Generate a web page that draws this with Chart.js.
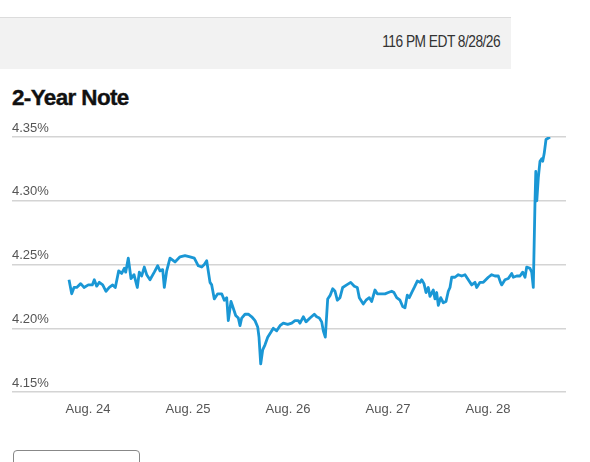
<!DOCTYPE html>
<html>
<head>
<meta charset="utf-8">
<script src="https://cdn.jsdelivr.net/npm/chart.js@4.4.1/dist/chart.umd.min.js"></script>
<style>
  html, body { margin: 0; padding: 0; background: #fff; }
  body { width: 590px; height: 462px; position: relative; overflow: hidden;
         font-family: 'Liberation Sans', Arial, sans-serif; }
  .stamp { position: absolute; left: 0; top: 17px; width: 511px; height: 52px;
           background: #f2f2f2; border-top: 1px solid #dcdcdc; box-sizing: border-box; }
  .stamp span { position: absolute; right: 11px; top: 15px; font-size: 16px; color: #333;
                letter-spacing: -0.6px; transform: scaleX(0.86); transform-origin: right center; }
  h1 { position: absolute; left: 12px; top: 85px; margin: 0; font-size: 22px; font-weight: bold;
       color: #111; letter-spacing: -0.6px; transform: scaleX(1.02); transform-origin: left center;
       -webkit-text-stroke: 0.4px #111; }
  .wrap { position: absolute; left: 0; top: 110px; width: 590px; height: 320px; }
  .btn { position: absolute; left: 13px; top: 450px; width: 127px; height: 30px;
         border: 1px solid #888; border-radius: 4px; box-sizing: border-box; }
</style>
</head>
<body>
<div class="stamp"><span>116 PM EDT 8/28/26</span></div>
<h1>2-Year Note</h1>
<div class="wrap"><canvas id="noteChart"></canvas></div>
<div class="btn"></div>
<script>
// tiempo en días (24 = Aug. 24) y rendimiento en %
const dias = [
  23.81, 23.837, 23.86, 23.887, 23.927, 23.96, 24.003, 24.043, 24.063, 24.087,
  24.113, 24.147, 24.18, 24.213, 24.247, 24.273, 24.307, 24.337, 24.363, 24.377,
  24.403, 24.43, 24.46, 24.493, 24.513, 24.537, 24.563, 24.587, 24.62, 24.663,
  24.697, 24.72, 24.747, 24.763, 24.787, 24.82, 24.87, 24.92, 24.97, 25.02,
  25.063, 25.103, 25.137, 25.163, 25.187, 25.22, 25.237, 25.263, 25.297, 25.337,
  25.363, 25.387, 25.403, 25.43, 25.443, 25.477, 25.503, 25.52, 25.537, 25.57,
  25.603, 25.637, 25.67, 25.697, 25.71, 25.727, 25.747, 25.77, 25.797, 25.83,
  25.853, 25.887, 25.92, 25.953, 25.997, 26.037, 26.07, 26.103, 26.12, 26.153,
  26.18, 26.22, 26.263, 26.287, 26.313, 26.337, 26.353, 26.373, 26.397, 26.423,
  26.447, 26.47, 26.493, 26.52, 26.547, 26.587, 26.627, 26.663, 26.693, 26.713,
  26.737, 26.753, 26.78, 26.813, 26.837, 26.87, 26.893, 26.927, 26.97, 27.003,
  27.037, 27.06, 27.087, 27.12, 27.147, 27.17, 27.193, 27.213, 27.237, 27.263,
  27.293, 27.32, 27.337, 27.36, 27.38, 27.403, 27.42, 27.453, 27.47, 27.487,
  27.503, 27.527, 27.553, 27.58, 27.603, 27.62, 27.637, 27.67, 27.703, 27.737,
  27.77, 27.803, 27.837, 27.87, 27.887, 27.92, 27.953, 28.003, 28.037, 28.07,
  28.103, 28.125, 28.137, 28.17, 28.203, 28.237, 28.253, 28.287, 28.32, 28.347,
  28.37, 28.387, 28.42, 28.437, 28.453, 28.47, 28.478, 28.488, 28.503, 28.52,
  28.537, 28.547, 28.562, 28.58, 28.6, 28.62
];
const rendimiento = [
  4.238, 4.227, 4.232, 4.232, 4.235, 4.232, 4.234, 4.234, 4.238, 4.233,
  4.236, 4.234, 4.229, 4.232, 4.234, 4.232, 4.245, 4.243, 4.247, 4.244,
  4.255, 4.239, 4.242, 4.232, 4.244, 4.241, 4.248, 4.242, 4.238, 4.244,
  4.249, 4.245, 4.246, 4.232, 4.245, 4.255, 4.252, 4.256, 4.257, 4.256,
  4.255, 4.249, 4.248, 4.250, 4.253, 4.236, 4.234, 4.223, 4.227, 4.227,
  4.222, 4.224, 4.206, 4.221, 4.218, 4.210, 4.208, 4.202, 4.208, 4.211,
  4.211, 4.209, 4.206, 4.201, 4.193, 4.172, 4.183, 4.187, 4.193, 4.197,
  4.200, 4.198, 4.202, 4.204, 4.203, 4.204, 4.206, 4.206, 4.204, 4.209,
  4.205, 4.208, 4.211, 4.209, 4.208, 4.205, 4.198, 4.193, 4.223, 4.226,
  4.231, 4.229, 4.222, 4.224, 4.232, 4.234, 4.236, 4.233, 4.232, 4.224,
  4.221, 4.219, 4.222, 4.224, 4.221, 4.230, 4.227, 4.227, 4.227, 4.228,
  4.229, 4.228, 4.224, 4.222, 4.217, 4.216, 4.226, 4.224, 4.228, 4.232,
  4.237, 4.236, 4.238, 4.235, 4.228, 4.232, 4.225, 4.230, 4.223, 4.228,
  4.218, 4.224, 4.220, 4.221, 4.229, 4.232, 4.240, 4.240, 4.242, 4.241,
  4.242, 4.238, 4.234, 4.236, 4.232, 4.236, 4.236, 4.240, 4.242, 4.241,
  4.241, 4.236, 4.234, 4.238, 4.239, 4.243, 4.240, 4.241, 4.241, 4.244,
  4.240, 4.248, 4.247, 4.244, 4.232, 4.299, 4.323, 4.300, 4.318, 4.331,
  4.333, 4.331, 4.337, 4.348, 4.349, 4.350
];
const xTicks  = [24, 25, 26, 27, 28];
const xLabels = ['Aug. 24', 'Aug. 25', 'Aug. 26', 'Aug. 27', 'Aug. 28'];
const yTicks  = [4.15, 4.20, 4.25, 4.30, 4.35];

const tickFont = { family: "'Liberation Sans', Arial, sans-serif", size: 13 };

const ctx = document.getElementById('noteChart').getContext('2d');
new Chart(ctx, {
  type: 'line',
  data: {
    datasets: [{
      data: dias.map((d, i) => ({ x: d, y: rendimiento[i] })),
      borderColor: '#1a97d5',
      borderWidth: 2.8,
      borderJoinStyle: 'round',
      pointRadius: 0,
      tension: 0,
      fill: false
    }]
  },
  options: {
    responsive: true,
    maintainAspectRatio: false,
    animation: false,
    layout: { padding: { left: 12, right: 24, top: 27, bottom: 0 } },
    plugins: { legend: { display: false }, tooltip: { enabled: false } },
    scales: {
      x: {
        type: 'linear',
        min: 23.24,
        max: 28.78,
        afterBuildTicks: s => { s.ticks = xTicks.map(v => ({ value: v })); },
        afterFit: s => { s.height = 38; },
        grid: { display: false, drawTicks: false },
        border: { display: false },
        ticks: {
          padding: 10,
          color: '#555',
          font: tickFont,
          maxRotation: 0,
          autoSkip: false,
          callback: v => xLabels[xTicks.indexOf(v)]
        }
      },
      y: {
        min: 4.15,
        max: 4.35,
        afterBuildTicks: s => { s.ticks = yTicks.map(v => ({ value: v })); },
        grid: { color: '#d4d4d4', lineWidth: 1.5, drawTicks: false },
        border: { display: false },
        ticks: {
          mirror: true,
          padding: 0,
          labelOffset: -9,
          color: '#555',
          font: tickFont,
          callback: v => v.toFixed(2) + '%'
        }
      }
    }
  }
});
</script>
</body>
</html>
